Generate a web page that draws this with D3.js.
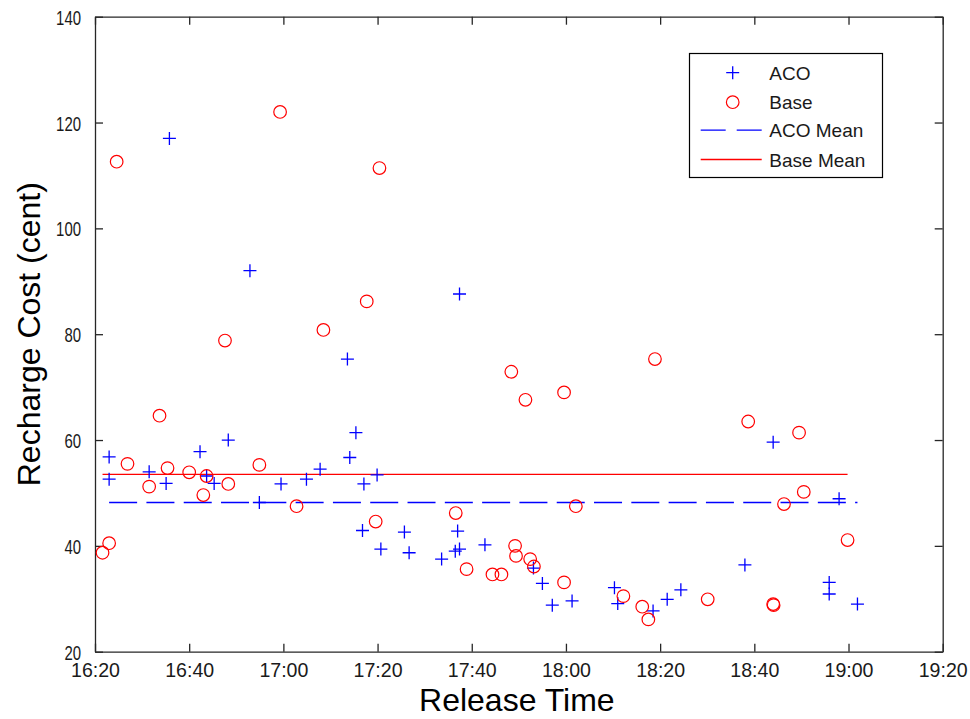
<!DOCTYPE html>
<html><head><meta charset="utf-8">
<script src="https://cdn.jsdelivr.net/npm/d3@7"></script>
<style>html,body{margin:0;padding:0;background:#fff;}svg{display:block;font-family:Arial,"Liberation Sans",sans-serif;}</style>
</head><body><svg id="c" width="970" height="719"></svg>
<script>
// minutes after 16:20
const acoTime = [3.0,3.0,15.8,11.5,15.1,22.3,23.7,25.3,28.3,32.9,34.9,39.5,44.9,47.8,53.6,54.1,55.4,57.1,56.8,59.9,60.7,65.7,66.7,73.6,77.0,77.4,76.5,77.4,82.8,93.1,95.0,97.1,101.3,110.3,111.0,118.5,121.5,124.4,138.0,144.0,155.9,155.9,158.0,161.9];
const acoCost = [56.8,52.6,117.0,54.0,51.8,57.8,53.2,51.8,60.0,92.0,48.2,51.7,52.6,54.5,75.3,56.7,61.4,51.7,42.9,53.4,39.4,42.6,38.7,37.5,42.8,39.4,39.0,87.6,40.2,35.8,32.9,28.8,29.6,32.1,29.1,27.7,29.9,31.7,36.4,59.6,33.1,30.9,48.9,29.0];
const baseTime = [1.6,3.0,4.6,6.9,11.5,13.7,15.4,20.0,23.7,23.0,27.6,28.3,34.9,39.3,42.8,48.5,57.7,59.6,60.4,76.6,78.9,84.4,86.3,88.4,89.2,89.4,91.4,92.4,93.2,99.6,99.6,102.1,112.2,116.2,117.5,118.9,130.1,138.7,144.0,144.1,146.3,149.5,150.5,159.8];
const baseCost = [38.7,40.5,112.6,55.5,51.2,64.6,54.7,53.9,53.2,49.6,78.8,51.7,55.3,122.0,47.5,80.8,86.2,44.6,111.4,46.2,35.6,34.6,34.6,72.9,40.0,38.1,67.6,37.5,36.1,69.0,33.1,47.5,30.5,28.5,26.1,75.3,29.9,63.5,29.0,28.8,47.9,61.4,50.2,41.1];
const acoMean = 48.2;
const baseMean = 53.5;
const xTickLabels = ["16:20","16:40","17:00","17:20","17:40","18:00","18:20","18:40","19:00","19:20"];
const yTicks = [20,40,60,80,100,120,140];
const legendLabels = ["ACO","Base","ACO Mean","Base Mean"];

const svg = d3.select("#c");
const L=95, R=942.7, T=16.7, B=651.7;
const toMin = s => { const [h,m]=s.split(":").map(Number); return (h*60+m)-(16*60+20); };
const x = d3.scaleLinear().domain([toMin(xTickLabels[0]), toMin(xTickLabels[xTickLabels.length-1])]).range([L,R]);
const y = d3.scaleLinear().domain([20,140]).range([B,T]);
const axisCol = "#262626";

const xTickVals = xTickLabels.map(toMin);
const xb = svg.append("g").attr("transform",`translate(0,${B})`)
  .call(d3.axisBottom(x).tickValues(xTickVals).tickSizeInner(-8).tickSizeOuter(0).tickFormat((d,i)=>xTickLabels[i]));
const xt = svg.append("g").attr("transform",`translate(0,${T})`)
  .call(d3.axisTop(x).tickValues(xTickVals).tickSizeInner(-8).tickSizeOuter(0).tickFormat(""));
const yl = svg.append("g").attr("transform",`translate(${L},0)`)
  .call(d3.axisLeft(y).tickValues(yTicks).tickSizeInner(-8).tickSizeOuter(0));
const yr = svg.append("g").attr("transform",`translate(${R},0)`)
  .call(d3.axisRight(y).tickValues(yTicks).tickSizeInner(-8).tickSizeOuter(0).tickFormat(""));
[xb,xt,yl,yr].forEach(g=>{
  g.selectAll(".domain").attr("stroke",axisCol).attr("stroke-width",1.3);
  g.selectAll(".tick line").attr("stroke",axisCol).attr("stroke-width",1.3);
  g.selectAll("text").attr("fill","#1a1a1a").attr("font-size",20).attr("font-family","Arial, 'Liberation Sans', sans-serif");
});
xb.selectAll(".tick text").attr("dy",null).attr("y",25.5)
  .attr("textLength",49).attr("lengthAdjust","spacingAndGlyphs");
yl.selectAll(".tick text").attr("dy",null).attr("y",7.5).attr("x",-14)
  .attr("textLength",d=>String(d).length*8.3).attr("lengthAdjust","spacingAndGlyphs");

// mean lines
const ax = d3.extent(acoTime), bx = d3.extent(baseTime);
svg.append("line").attr("x1",x(bx[0])).attr("x2",x(bx[1])).attr("y1",y(baseMean)).attr("y2",y(baseMean))
  .attr("stroke","#ff0000").attr("stroke-width",1.3);
svg.append("line").attr("x1",x(ax[0])).attr("x2",x(ax[1])).attr("y1",y(acoMean)).attr("y2",y(acoMean))
  .attr("stroke","#0000ff").attr("stroke-width",1.3).attr("stroke-dasharray","28,9.3");

// markers
const plus = "M-6.5,0H6.5M0,-6.5V6.5";
svg.append("g").selectAll("path").data(d3.range(acoTime.length)).join("path")
  .attr("d",plus).attr("transform",i=>`translate(${x(acoTime[i])},${y(acoCost[i])})`)
  .attr("stroke","#0000ff").attr("stroke-width",1.3).attr("fill","none");
svg.append("g").selectAll("circle").data(d3.range(baseTime.length)).join("circle")
  .attr("cx",i=>x(baseTime[i])).attr("cy",i=>y(baseCost[i])).attr("r",6.3)
  .attr("stroke","#ff0000").attr("stroke-width",1.2).attr("fill","none");

// legend
const lg = svg.append("g");
lg.append("rect").attr("x",689.5).attr("y",53.5).attr("width",193).attr("height",124)
  .attr("fill","#fff").attr("stroke","#000").attr("stroke-width",1.2);
const ly = [72.7,102.2,130.2,159.5];
lg.append("path").attr("d",plus).attr("transform",`translate(732.7,${ly[0]})`).attr("stroke","#0000ff").attr("stroke-width",1.3);
lg.append("circle").attr("cx",732.7).attr("cy",ly[1]).attr("r",6.3).attr("fill","none").attr("stroke","#ff0000").attr("stroke-width",1.2);
lg.append("line").attr("x1",700.7).attr("x2",761.7).attr("y1",ly[2]).attr("y2",ly[2]).attr("stroke","#0000ff").attr("stroke-width",1.3).attr("stroke-dasharray","25,11");
lg.append("line").attr("x1",700.7).attr("x2",761.7).attr("y1",ly[3]).attr("y2",ly[3]).attr("stroke","#ff0000").attr("stroke-width",1.3);
lg.selectAll("text.lt").data(legendLabels).join("text").attr("class","lt")
  .attr("x",769.3).attr("y",(d,i)=>ly[i]+7).attr("font-size",19).attr("fill","#1a1a1a").text(d=>d);

// axis titles
svg.append("text").attr("x",(L+R)/2-2).attr("y",711).attr("text-anchor","middle").attr("font-size",32).attr("fill","#000").text("Release Time");
svg.append("text").attr("transform",`translate(40,${(T+B)/2}) rotate(-90)`).attr("text-anchor","middle").attr("font-size",32).attr("fill","#000").text("Recharge Cost (cent)");
</script></body></html>
